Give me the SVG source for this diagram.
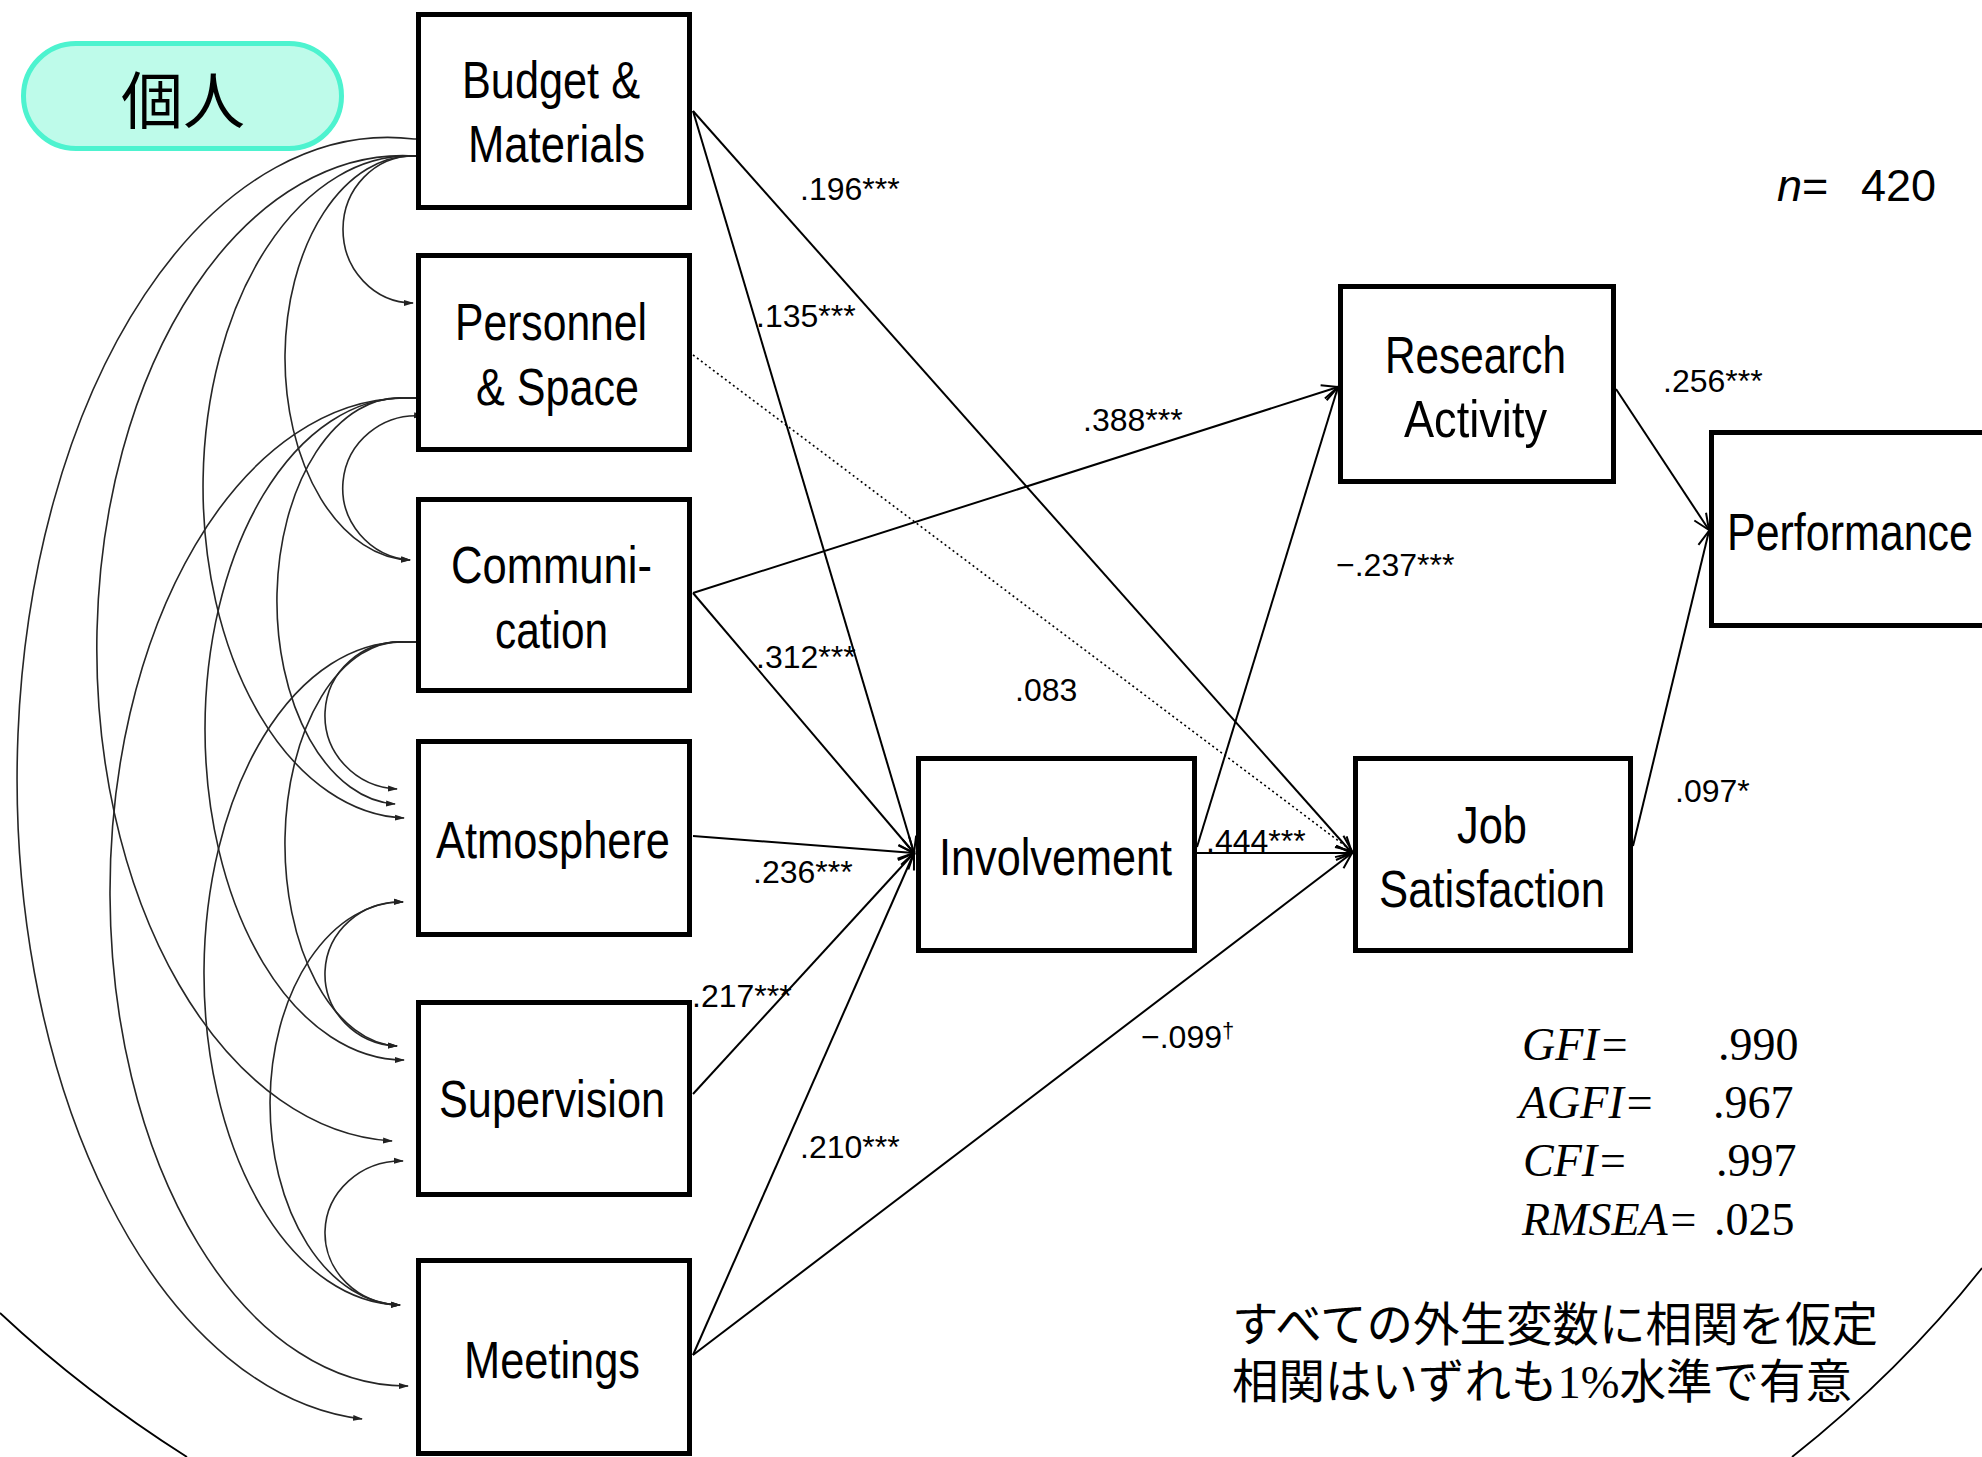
<svg xmlns="http://www.w3.org/2000/svg" width="1982" height="1457" viewBox="0 0 1982 1457">
<defs>
<style>
.box{fill:#fff;stroke:#000;stroke-width:5}
.lbl{font-family:"Liberation Sans",Arial,sans-serif;font-size:52px;fill:#000}
.coef{font-family:"Liberation Sans",Arial,sans-serif;font-size:32px;fill:#000}
.path{fill:none;stroke:#000;stroke-width:2;marker-end:url(#ah)}
.dotted{fill:none;stroke:#000;stroke-width:1.6;stroke-dasharray:2 3;marker-end:url(#ah)}
.cov{fill:none;stroke:#262626;stroke-width:1.6;marker-start:url(#tip);marker-end:url(#tip)}
.fit{font-family:"Liberation Serif","Times New Roman",serif;font-size:46px;fill:#000}
.jp{font-family:"Liberation Sans","Noto Sans CJK JP",sans-serif;font-size:46.5px;fill:#000}
</style>
<marker id="ah" markerUnits="userSpaceOnUse" markerWidth="22" markerHeight="20" viewBox="-2 -10 22 20" refX="16" refY="0" orient="auto">
<path d="M0,-7 L16,0 L0,7" fill="none" stroke="#000" stroke-width="2"/>
</marker>
<marker id="tip" markerUnits="userSpaceOnUse" markerWidth="10" markerHeight="8" viewBox="0 -4 10 8" refX="9" refY="0" orient="auto-start-reverse">
<path d="M0,-3 L10,0 L0,3 z" fill="#222"/>
</marker>
</defs>
<rect width="1982" height="1457" fill="#fff"/>

<g id="enclosure" fill="none" stroke="#000" stroke-width="1.8">
<path d="M0,1313 A1322,1077 0 0 0 187,1457"/>
<path d="M1792,1457 A1322,1077 0 0 0 1982,1268"/>
</g>

<g id="covariances">
<path class="cov" d="M440,156 H414 A70.5,73.5 0 0 0 413,303"/>
<path class="cov" d="M440,156 H414 A127,202 0 0 0 410,560"/>
<path class="cov" d="M440,156 H414 A206,331 0 0 0 404,818"/>
<path class="cov" d="M440,156 H414 A306,492.5 0 0 0 392,1141"/>
<path class="cov" d="M440,139 H414 A370,640 0 0 0 362,1419"/>
<path class="cov" d="M423,416 A73.5,72 0 0 0 410,560"/>
<path class="cov" d="M437,398 H404 A122.5,203 0 0 0 395,804"/>
<path class="cov" d="M437,398 H404 A199,331 0 0 0 404,1060"/>
<path class="cov" d="M437,398 H404 A296,494 0 0 0 408,1386"/>
<path class="cov" d="M437,642 H404 A75.5,73.5 0 0 0 397,789"/>
<path class="cov" d="M437,642 H404 A115.5,202 0 0 0 397,1046"/>
<path class="cov" d="M437,642 H404 A198,331.5 0 0 0 400,1305"/>
<path class="cov" d="M403,902 A75,72 0 0 0 397,1046"/>
<path class="cov" d="M403,902 A131.5,201.5 0 0 0 400,1305"/>
<path class="cov" d="M403,1161 A76.5,72 0 0 0 400,1305"/>
</g>

<g id="connectors">
<line class="path" x1="693" y1="111" x2="914" y2="853"/>
<line class="path" x1="693" y1="111" x2="1352" y2="853"/>
<line class="dotted" x1="693" y1="355" x2="1352" y2="851"/>
<line class="path" x1="693" y1="593" x2="1338" y2="387"/>
<line class="path" x1="693" y1="593" x2="914" y2="853"/>
<line class="path" x1="693" y1="836" x2="914" y2="853"/>
<line class="path" x1="693" y1="1094" x2="914" y2="853"/>
<line class="path" x1="693" y1="1355" x2="914" y2="853"/>
<line class="path" x1="693" y1="1355" x2="1352" y2="853"/>
<line class="path" x1="1197" y1="847" x2="1338" y2="387"/>
<line class="path" x1="1197" y1="853" x2="1352" y2="853"/>
<line class="path" x1="1616" y1="389" x2="1709" y2="530"/>
<line class="path" x1="1633" y1="846" x2="1709" y2="531"/>
</g>

<g id="edge-labels">
<text class="coef" x="800" y="200">.196***</text>
<text class="coef" x="756" y="327">.135***</text>
<text class="coef" x="1083" y="431">.388***</text>
<text class="coef" x="756" y="668">.312***</text>
<text class="coef" x="1015" y="701">.083</text>
<text class="coef" x="753" y="883">.236***</text>
<text class="coef" x="1206" y="852">.444***</text>
<text class="coef" x="692" y="1007">.217***</text>
<text class="coef" x="1141" y="1048">−.099<tspan font-size="22" dy="-10">†</tspan></text>
<text class="coef" x="800" y="1158">.210***</text>
<text class="coef" x="1336" y="576">−.237***</text>
<text class="coef" x="1663" y="392">.256***</text>
<text class="coef" x="1675" y="802">.097*</text>
</g>

<g id="label-kojin">
<rect x="23.5" y="43.5" width="318" height="105" rx="52.5" fill="#BEFBEA" stroke="#4DF3CF" stroke-width="5"/>
<text x="183" y="124" text-anchor="middle" font-family="'Noto Sans CJK JP',sans-serif" font-size="62">個人</text>
</g>

<g id="budget">
<rect class="box" x="418.5" y="14.5" width="271" height="193"/>
<text class="lbl" x="462" y="98" textLength="178" lengthAdjust="spacingAndGlyphs">Budget &amp;</text>
<text class="lbl" x="468" y="162" textLength="177" lengthAdjust="spacingAndGlyphs">Materials</text>
</g>
<g id="personnel">
<rect class="box" x="418.5" y="255.5" width="271" height="194"/>
<text class="lbl" x="455" y="340" textLength="192" lengthAdjust="spacingAndGlyphs">Personnel</text>
<text class="lbl" x="476" y="405" textLength="163" lengthAdjust="spacingAndGlyphs">&amp; Space</text>
</g>
<g id="communication">
<rect class="box" x="418.5" y="499.5" width="271" height="191"/>
<text class="lbl" x="451" y="583" textLength="201" lengthAdjust="spacingAndGlyphs">Communi-</text>
<text class="lbl" x="495" y="648" textLength="113" lengthAdjust="spacingAndGlyphs">cation</text>
</g>
<g id="atmosphere">
<rect class="box" x="418.5" y="741.5" width="271" height="193"/>
<text class="lbl" x="436" y="858" textLength="234" lengthAdjust="spacingAndGlyphs">Atmosphere</text>
</g>
<g id="supervision">
<rect class="box" x="418.5" y="1002.5" width="271" height="192"/>
<text class="lbl" x="439" y="1117" textLength="226" lengthAdjust="spacingAndGlyphs">Supervision</text>
</g>
<g id="meetings">
<rect class="box" x="418.5" y="1260.5" width="271" height="193"/>
<text class="lbl" x="464" y="1378" textLength="176" lengthAdjust="spacingAndGlyphs">Meetings</text>
</g>
<g id="involvement">
<rect class="box" x="918.5" y="758.5" width="276" height="192"/>
<text class="lbl" x="939" y="875" textLength="233" lengthAdjust="spacingAndGlyphs">Involvement</text>
</g>
<g id="job-satisfaction">
<rect class="box" x="1355.5" y="758.5" width="275" height="192"/>
<text class="lbl" x="1457" y="843" textLength="70" lengthAdjust="spacingAndGlyphs">Job</text>
<text class="lbl" x="1379" y="907" textLength="226" lengthAdjust="spacingAndGlyphs">Satisfaction</text>
</g>
<g id="research-activity">
<rect class="box" x="1340.5" y="286.5" width="273" height="195"/>
<text class="lbl" x="1385" y="373" textLength="181" lengthAdjust="spacingAndGlyphs">Research</text>
<text class="lbl" x="1404" y="437" textLength="143" lengthAdjust="spacingAndGlyphs">Activity</text>
</g>
<g id="performance">
<rect class="box" x="1711.5" y="432.5" width="290" height="193"/>
<text class="lbl" x="1727" y="550" textLength="246" lengthAdjust="spacingAndGlyphs">Performance</text>
</g>

<g id="sample-size">
<text font-family="'Liberation Sans',Arial,sans-serif" font-size="45" y="201"><tspan x="1777" font-style="italic">n</tspan><tspan>=</tspan><tspan x="1861">420</tspan></text>
</g>

<g id="fit-indices">
<text class="fit" x="1522" y="1060" font-style="italic">GFI=</text>
<text class="fit" x="1718" y="1060">.990</text>
<text class="fit" x="1519" y="1118" font-style="italic">AGFI=</text>
<text class="fit" x="1713" y="1118">.967</text>
<text class="fit" x="1523" y="1176" font-style="italic">CFI=</text>
<text class="fit" x="1716" y="1176">.997</text>
<text class="fit" x="1522" y="1235" font-style="italic">RMSEA=</text>
<text class="fit" x="1714" y="1235">.025</text>
</g>

<g id="note">
<text class="jp" x="1232" y="1341">すべての外生変数に相関を仮定</text>
<text class="jp" x="1232" y="1398">相関はいずれも<tspan font-family="'Liberation Serif','Times New Roman',serif">1%</tspan>水準で有意</text>
</g>
</svg>
